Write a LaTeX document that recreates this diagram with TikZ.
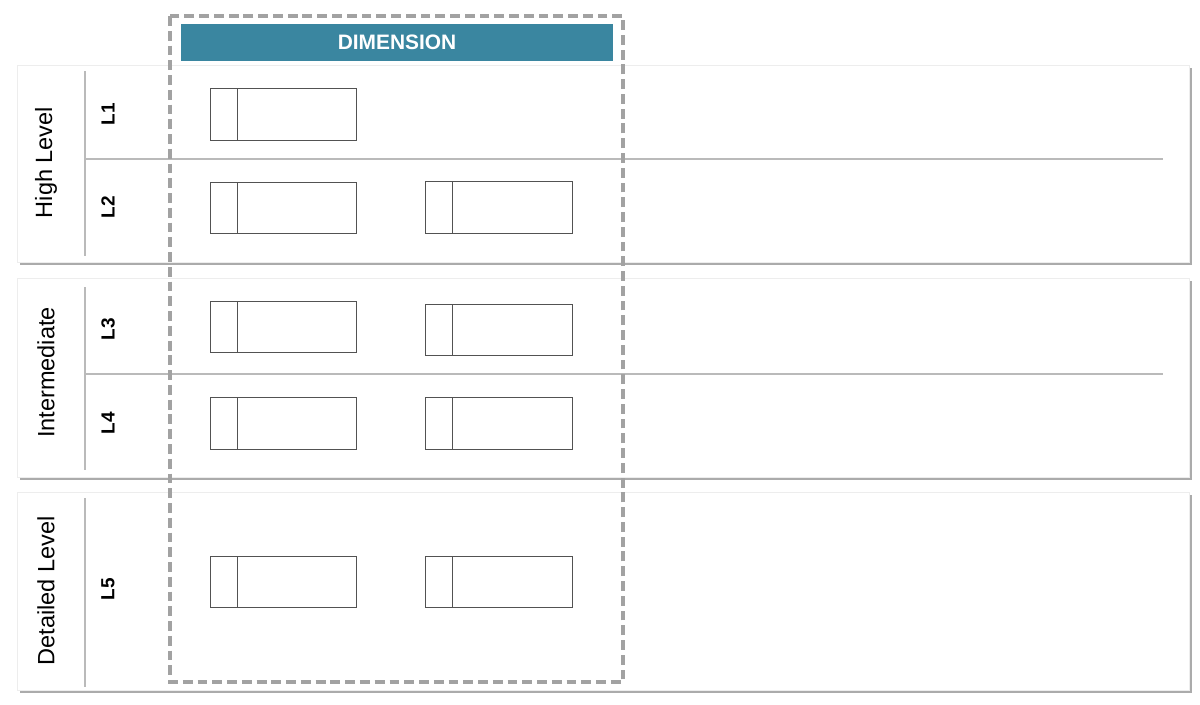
\documentclass[tikz,border=0pt]{standalone}
\usepackage{fontspec}
\setmainfont{Liberation Sans}
\usetikzlibrary{shadows}
\definecolor{dimteal}{HTML}{3A86A0}
\definecolor{dashgray}{HTML}{A2A2A2}

\begin{document}
\begin{tikzpicture}[x=0.02cm,y=-0.02cm,inner sep=0pt,
  panel/.style={fill=white,draw=black!7,line width=0.5pt,drop shadow={shadow xshift=1.5pt,shadow yshift=-1.5pt,opacity=0.6,fill=black!55}},
  rule/.style={draw=black!27,line width=0.8pt},
  cell/.style={draw=black!68,line width=0.5pt},
  dimbox/.style={draw=dashgray,line width=2pt,dash pattern=on 5.6pt off 2.8pt},
  level/.style={rotate=90,font=\fontsize{13.4}{15}\selectfont},
  tag/.style={rotate=90,font=\fontsize{10.8}{12}\selectfont\bfseries}]

\useasboundingbox (0,0) rectangle (1200,704);

% the three bands
\draw[panel] (17,65) rectangle (1189,262);
\draw[panel] (17,278) rectangle (1189,477);
\draw[panel] (17,492) rectangle (1189,690);

\draw[rule] (85,71) -- (85,256);
\draw[rule] (85,159) -- (1163,159);
\draw[rule] (85,287) -- (85,470);
\draw[rule] (85,374) -- (1163,374);
\draw[rule] (85,498) -- (85,687);

\node(high) at (46,162.5) [level] {High Level};
\node(mid) at (46,372.5) [level] {Intermediate};
\node(detail) at (46,591) [level] {Detailed Level};

\node(l1) at (108,114.5) [tag] {L1};
\node(l2) at (108,207.5) [tag] {L2};
\node(l3) at (108,329.5) [tag] {L3};
\node(l4) at (108,423) [tag] {L4};
\node(l5) at (108,589.5) [tag] {L5};

% dimension column
\fill[dimteal] (181,24) rectangle (613,61);
\node(dim) at (397,42.5) [text=white,font=\fontsize{11.9}{13}\selectfont\bfseries] {DIMENSION};

%\draw[cell] (425,88) rectangle (572,140);
\draw[cell] (210,88) rectangle (356,140);
\draw[cell] (237,88) -- (237,140);

\draw[cell] (210,182) rectangle (356,233);
\draw[cell] (237,182) -- (237,233);
\draw[cell] (425,181) rectangle (572,233);
\draw[cell] (452,181) -- (452,233);

\draw[cell] (210,301) rectangle (356,352);
\draw[cell] (237,301) -- (237,352);
\draw[cell] (425,304) rectangle (572,355);
\draw[cell] (452,304) -- (452,355);

\draw[cell] (210,397) rectangle (356,449);
\draw[cell] (237,397) -- (237,449);
\draw[cell] (425,397) rectangle (572,449);
\draw[cell] (452,397) -- (452,449);

\draw[cell] (210,556) rectangle (356,607);
\draw[cell] (237,556) -- (237,607);
\draw[cell] (425,556) rectangle (572,607);
\draw[cell] (452,556) -- (452,607);

\draw[dimbox] (170,16) rectangle (623,682);

\end{tikzpicture}
\end{document}
